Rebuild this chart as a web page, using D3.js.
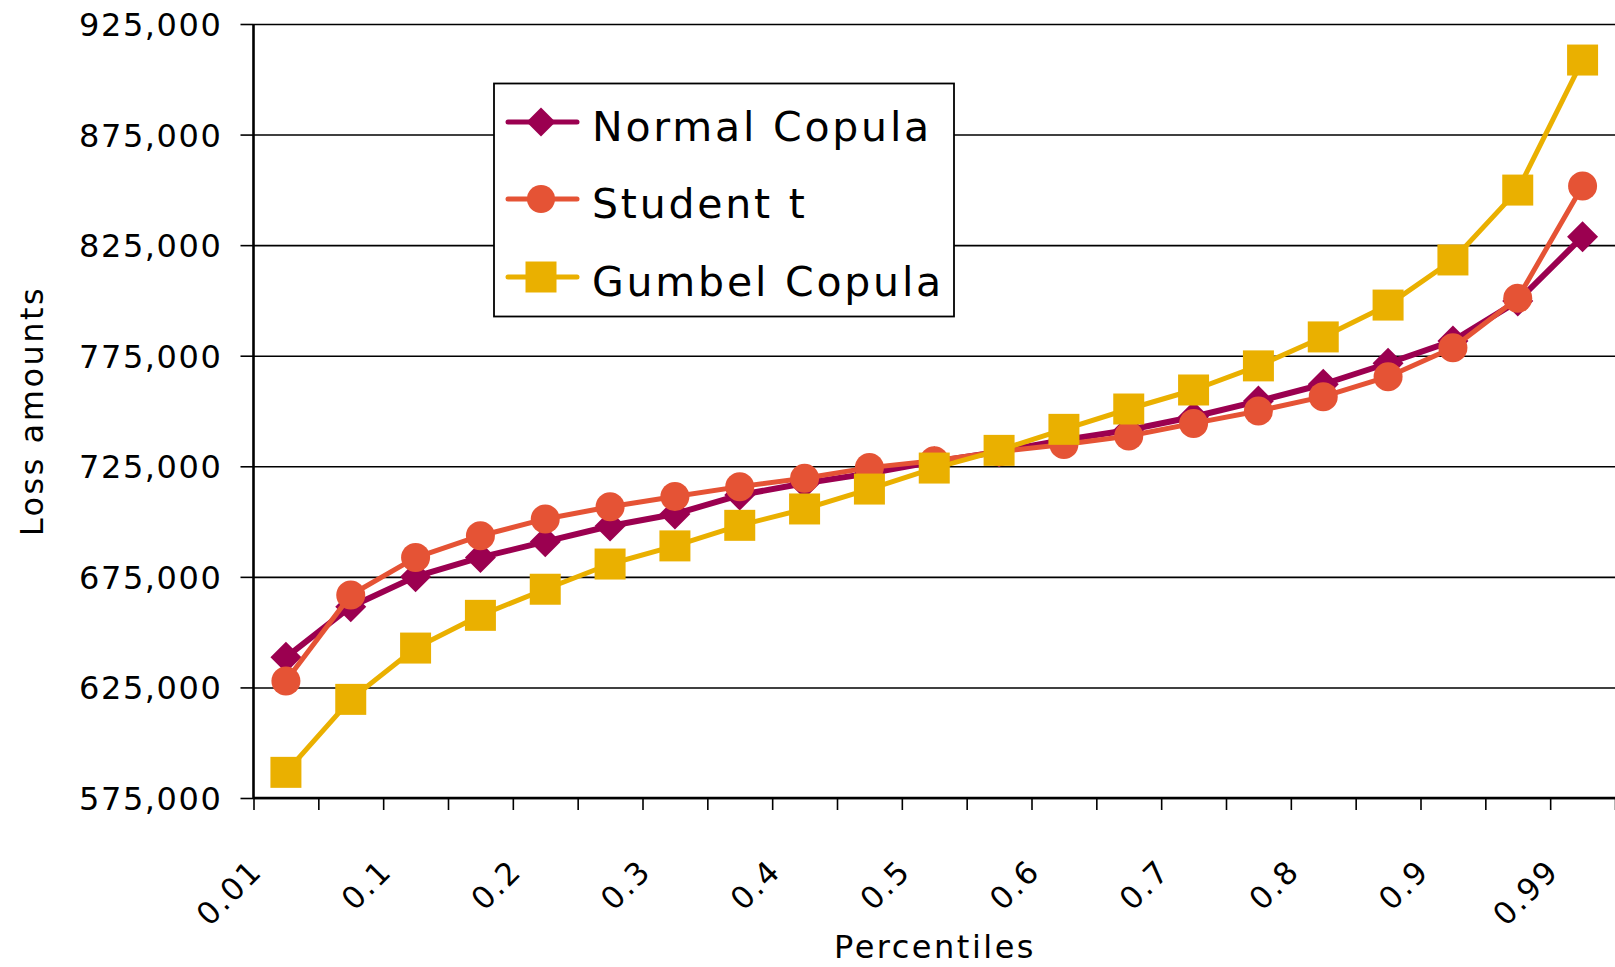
<!DOCTYPE html>
<html>
<head>
<meta charset="utf-8">
<script src="https://cdn.jsdelivr.net/npm/d3@7"></script>
<style>
  html, body { margin: 0; padding: 0; background: #fff; }
  svg text { font-family: "DejaVu Sans", sans-serif; fill: #000; }
</style>
</head>
<body>
<svg id="chart" width="1615" height="967"></svg>
<script>
// data
var categories = ['0.01', '0.05', '0.1', '0.15', '0.2', '0.25', '0.3', '0.35', '0.4', '0.45', '0.5',
    '0.55', '0.6', '0.65', '0.7', '0.75', '0.8', '0.85', '0.9', '0.95', '0.99'];
var shownLabels = ['0.01', '0.1', '0.2', '0.3', '0.4', '0.5', '0.6', '0.7', '0.8', '0.9', '0.99'];
var normalCopula = [638600, 661500, 675100, 683800, 690900, 698000, 703400, 712000, 717300, 721800, 727100,
    731600, 736900, 741400, 747400, 754500, 762100, 771600, 781700, 799700, 828800];
var studentT = [627900, 666800, 683700, 693600, 701200, 706700, 711300, 715800, 719600, 724400, 727500,
    731600, 734900, 738700, 744400, 750000, 756500, 765500, 778600, 801000, 851700];
var gumbelCopula = [586600, 619600, 642800, 657600, 669400, 680800, 689000, 698300, 705700, 714700, 724200,
    732200, 741700, 750900, 759500, 770400, 783500, 797900, 818300, 849900, 908700];
var yTicks = [575000, 625000, 675000, 725000, 775000, 825000, 875000, 925000];
var seriesNames = ['Normal Copula', 'Student t', 'Gumbel Copula'];

var plotLeft = 253.5, plotRight = 1615, plotTop = 24, plotBottom = 798;
var svg = d3.select('#chart');

var x = d3.scaleBand().domain(categories).range([plotLeft, plotRight]).padding(0);
var xEdge = d3.scaleLinear().domain([0, categories.length]).range([plotLeft, plotRight]);
var y = d3.scaleLinear().domain([575000, 925000]).range([plotBottom, plotTop]);

// gridlines
svg.append('g')
    .attr('transform', `translate(${plotLeft},0)`)
    .call(d3.axisLeft(y).tickValues(yTicks).tickSize(-(plotRight - plotLeft)).tickFormat(''))
    .call(g => g.select('.domain').remove())
    .selectAll('line').attr('stroke', '#000').attr('stroke-width', 1.6);

// y axis
var yAxis = svg.append('g')
    .attr('transform', `translate(${plotLeft},0)`)
    .call(d3.axisLeft(y).tickValues(yTicks).tickSize(13).tickPadding(20).tickFormat(d3.format(',')));
yAxis.select('.domain').attr('stroke', '#000').attr('stroke-width', 2.6).attr('d', `M0,${plotTop}V${plotBottom}`);
yAxis.selectAll('.tick line').attr('stroke', '#000').attr('stroke-width', 1.6);
yAxis.selectAll('.tick text')
    .attr('font-size', 32).attr('letter-spacing', 1.6)
    .attr('dy', '0.36em').attr('x', -31).attr('fill', '#000');

// x axis: tick marks on category edges
var xAxis = svg.append('g')
    .attr('transform', `translate(0,${plotBottom})`)
    .call(d3.axisBottom(xEdge).tickValues(d3.range(categories.length + 1)).tickSize(12).tickFormat(''));
xAxis.select('.domain').attr('stroke', '#000').attr('stroke-width', 2.6).attr('d', `M${plotLeft},0H${plotRight}`);
xAxis.selectAll('.tick line').attr('stroke', '#000').attr('stroke-width', 1.6);

// rotated category labels, every other one
svg.append('g').selectAll('text')
    .data(shownLabels)
    .enter().append('text')
    .attr('transform', d => `translate(${x(d) + x.bandwidth() / 2 - 22},${plotBottom + 75}) rotate(-45)`)
    .attr('text-anchor', 'end')
    .attr('font-size', 31)
    .attr('letter-spacing', 2)
    .text(d => d);

// axis titles
svg.append('text')
    .attr('x', 935).attr('y', 958)
    .attr('text-anchor', 'middle')
    .attr('font-size', 32).attr('letter-spacing', 2.5)
    .text('Percentiles');
svg.append('text')
    .attr('transform', 'translate(43,411) rotate(-90)')
    .attr('text-anchor', 'middle')
    .attr('font-size', 32).attr('letter-spacing', 2.5)
    .text('Loss amounts');

// series
var colors = ['#9b0050', '#e55335', '#eab000'];
var widths = [6, 5, 5];
var seriesData = [normalCopula, studentT, gumbelCopula];
var shapeSizes = [31, 29, 31];

function markerPath(i, s) {
    // symbol size is an area: pick it so the mark spans s pixels
    if (i === 0) return d3.symbol(d3.symbolDiamond2, Math.pow(s / 1.2525, 2))();
    if (i === 1) return d3.symbol(d3.symbolCircle, Math.PI * (s / 2) * (s / 2))();
    return d3.symbol(d3.symbolSquare2, Math.pow(s / 0.8862, 2))();
}

var line = d3.line()
    .x((d, i) => x(categories[i]) + x.bandwidth() / 2)
    .y(d => y(d));

seriesData.forEach(function (vals, si) {
    var g = svg.append('g');
    g.append('path')
        .datum(vals)
        .attr('d', line)
        .attr('fill', 'none')
        .attr('stroke', colors[si])
        .attr('stroke-width', widths[si])
        .attr('stroke-linejoin', 'round');
    g.selectAll('path.mark')
        .data(vals)
        .enter().append('path')
        .attr('class', 'mark')
        .attr('transform', (d, i) => `translate(${x(categories[i]) + x.bandwidth() / 2},${y(d)})`)
        .attr('d', markerPath(si, shapeSizes[si]))
        .attr('fill', colors[si]);
});

// legend
var legend = svg.append('g');
legend.append('rect')
    .attr('x', 494).attr('y', 83.5).attr('width', 460).attr('height', 233)
    .attr('fill', '#fff').attr('stroke', '#000').attr('stroke-width', 1.8);
var legendY = [122, 199, 277];
var legendMarkSize = [29, 28, 31];
seriesNames.forEach(function (name, si) {
    var row = legend.append('g').attr('transform', `translate(0,${legendY[si]})`);
    row.append('line')
        .attr('x1', 508).attr('x2', 577).attr('y1', 0).attr('y2', 0)
        .attr('stroke', colors[si]).attr('stroke-width', 5).attr('stroke-linecap', 'round');
    row.append('path')
        .attr('transform', 'translate(541,0)')
        .attr('d', markerPath(si, legendMarkSize[si]))
        .attr('fill', colors[si]);
    row.append('text')
        .attr('x', 592).attr('y', 19)
        .attr('font-size', 41).attr('letter-spacing', 2.8)
        .text(name);
});
</script>
</body>
</html>
